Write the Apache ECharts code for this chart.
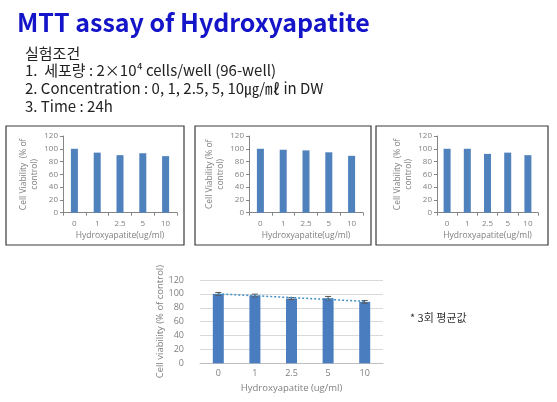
<!DOCTYPE html>
<html>
<head>
<meta charset="utf-8">
<script src="https://cdn.jsdelivr.net/npm/echarts@6/dist/echarts.min.js"></script>
<style>
html,body{margin:0;padding:0;background:#fff;}
#main{width:557px;height:402px;}
</style>
</head>
<body>
<div id="main"></div>
<script>
var doses = ['0', '1', '2.5', '5', '10'];
var run1 = [100, 94, 90, 93, 88.5];
var run2 = [100, 98.5, 97.5, 94.5, 89];
var run3 = [100, 100, 92, 94, 90];
var meanVals = [100, 97.6, 93.3, 93.8, 88.5];
var meanErr = [2, 2, 1.5, 2.5, 2];
var yTicks = [0, 20, 40, 60, 80, 100, 120];

var myChart = echarts.init(document.getElementById('main'));

var latin = '"Open Sans", "Noto Sans CJK KR", sans-serif';
var kr = '"Noto Sans CJK KR", sans-serif';
var barBlue = '#4f81bd';

// linear trend of the means (like the spreadsheet trendline)
function trend(vals){
	var n=vals.length, sx=0, sy=0, sxy=0, sxx=0;
	for(var i=0;i<n;i++){ sx+=i; sy+=vals[i]; sxy+=i*vals[i]; sxx+=i*i; }
	var b=(n*sxy-sx*sy)/(n*sxx-sx*sx);
	var a=(sy-b*sx)/n;
	var out=[];
	for(var j=0;j<n;j++){ out.push(+(a+b*j).toFixed(2)); }
	return out;
}

var grids = [
	{left:63, top:136, width:114, height:76.7},
	{left:249, top:136, width:114, height:76.7},
	{left:437, top:136, width:101, height:76.7},
	{left:200, top:280, width:183, height:83.3}
];
var titleGaps = [21, 22, 23];
var yNames = ['Cell Viability  (% of\ncontrol)', 'Cell Viability (% of\ncontrol)', 'Cell Viability  (% of\ncontrol)'];

var xAxes=[], yAxes=[], series=[];
var runs=[run1, run2, run3];
for(var k=0;k<3;k++){
	xAxes.push({
		type:'category', gridIndex:k, data:doses,
		name:'Hydroxyapatite(ug/ml)', nameLocation:'middle', nameGap:19,
		nameTextStyle:{fontFamily:latin, fontSize:8.5, color:'#7f7f7f'},
		axisLine:{lineStyle:{color:'#868686', width:1}},
		axisTick:{show:true, length:3, lineStyle:{color:'#868686'}},
		axisLabel:{fontFamily:latin, fontSize:8, color:'#7f7f7f', margin:7}
	});
	yAxes.push({
		type:'value', gridIndex:k, min:0, max:120, interval:20,
		name:yNames[k], nameLocation:'middle', nameGap:titleGaps[k], nameRotate:90,
		nameTextStyle:{fontFamily:latin, fontSize:8.5, color:'#7f7f7f', lineHeight:11},
		axisLine:{show:true, lineStyle:{color:'#868686', width:1}},
		axisTick:{show:true, length:3, lineStyle:{color:'#868686'}},
		axisLabel:{fontFamily:latin, fontSize:8, color:'#7f7f7f', margin:5},
		splitLine:{show:false}
	});
	series.push({
		type:'bar', xAxisIndex:k, yAxisIndex:k, data:runs[k],
		barWidth:7, itemStyle:{color:barBlue}, silent:true
	});
}

xAxes.push({
	type:'category', gridIndex:3, data:doses,
	name:'Hydroxyapatite (ug/ml)', nameLocation:'middle', nameGap:20,
	nameTextStyle:{fontFamily:latin, fontSize:9.5, color:'#7f7f7f'},
	axisLine:{lineStyle:{color:'#bfbfbf', width:1}},
	axisTick:{show:false},
	axisLabel:{fontFamily:latin, fontSize:9, color:'#7f7f7f', margin:6}
});
yAxes.push({
	type:'value', gridIndex:3, min:0, max:120, interval:20,
	name:'Cell viability (% of control)', nameLocation:'middle', nameGap:22, nameRotate:90,
	nameTextStyle:{fontFamily:latin, fontSize:9.5, color:'#7f7f7f'},
	axisLine:{show:false}, axisTick:{show:false},
	axisLabel:{fontFamily:latin, fontSize:9, color:'#7f7f7f', margin:16},
	splitLine:{show:true, lineStyle:{color:'#d9d9d9', width:1}}
});
series.push({
	type:'bar', xAxisIndex:3, yAxisIndex:3, data:meanVals,
	barWidth:11, itemStyle:{color:'#4a7dbf'}, silent:true
});
series.push({
	type:'custom', xAxisIndex:3, yAxisIndex:3, silent:true, z:5,
	data:meanVals.map(function(v,i){ return [i, v-meanErr[i], v+meanErr[i]]; }),
	renderItem:function(params, api){
		var lo=api.coord([api.value(0), api.value(1)]);
		var hi=api.coord([api.value(0), api.value(2)]);
		var st={stroke:'#595959', lineWidth:1};
		return {type:'group', children:[
			{type:'line', shape:{x1:hi[0], y1:hi[1], x2:lo[0], y2:lo[1]}, style:st},
			{type:'line', shape:{x1:hi[0]-3, y1:hi[1], x2:hi[0]+3, y2:hi[1]}, style:st},
			{type:'line', shape:{x1:lo[0]-3, y1:lo[1], x2:lo[0]+3, y2:lo[1]}, style:st}
		]};
	}
});
series.push({
	type:'line', xAxisIndex:3, yAxisIndex:3, data:trend(meanVals), silent:true, z:6,
	symbol:'none', lineStyle:{color:'#3f8fc4', width:1.5, type:[2,2]}
});

var boxStyle={fill:'none', stroke:'#3a3a3a', lineWidth:1.2};
myChart.setOption({
	animation:false,
	grid:grids,
	xAxis:xAxes,
	yAxis:yAxes,
	series:series,
	graphic:[
		{type:'text', left:17, top:10, style:{text:'MTT assay of Hydroxyapatite', font:'bold 25px '+kr, fill:'#1414c8'}},
		{type:'text', left:25, top:46, style:{text:'실험조건', font:'15px '+kr, fill:'#222'}},
		{type:'text', left:25, top:63, style:{text:'1.  세포량 : 2×10⁴ cells/well (96-well)', font:'15px '+kr, fill:'#222'}},
		{type:'text', left:25, top:81, style:{text:'2. Concentration : 0, 1, 2.5, 5, 10㎍/㎖ in DW', font:'15px '+kr, fill:'#222'}},
		{type:'text', left:25, top:99, style:{text:'3. Time : 24h', font:'15px '+kr, fill:'#222'}},
		{type:'rect', shape:{x:6, y:126, width:178, height:119}, style:boxStyle},
		{type:'rect', shape:{x:195, y:126, width:176, height:119}, style:boxStyle},
		{type:'rect', shape:{x:376, y:126, width:172, height:119}, style:boxStyle},
		{type:'text', left:410, top:312, style:{text:'* 3회 평균값', font:'11px '+kr, fill:'#333'}}
	]
});
</script>
</body>
</html>
